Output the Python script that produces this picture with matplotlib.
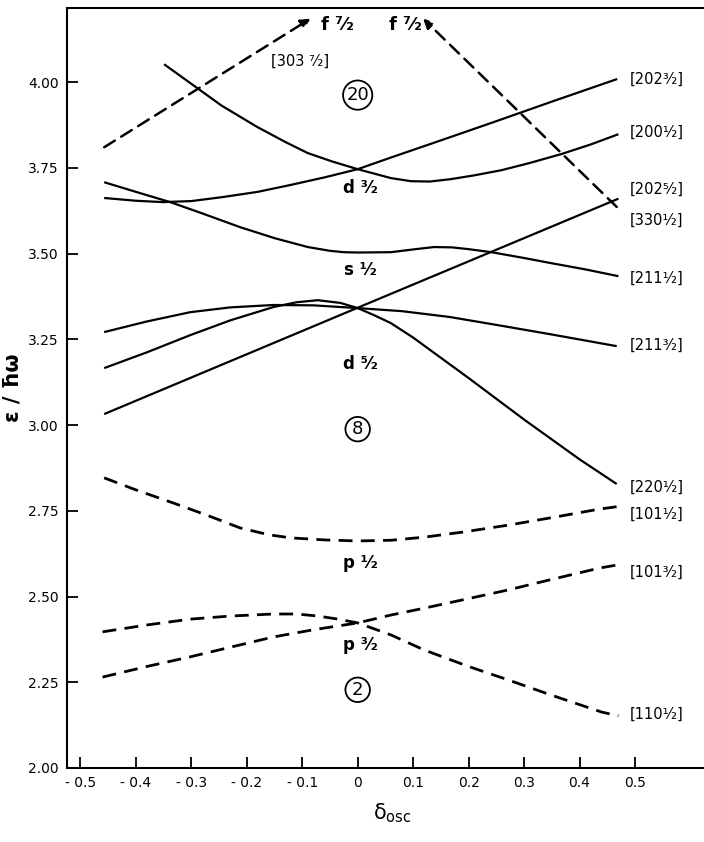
import matplotlib
matplotlib.use("Agg")
import matplotlib.pyplot as plt

# deformation values (delta_osc) and energies (eps / hbar omega)
# solid levels (N=2 shell)
d_202_32 = [-0.457, -0.40, -0.351, -0.30, -0.242, -0.18, -0.121, -0.06, 0.0, 0.06, 0.15, 0.25, 0.35, 0.468]
e_202_32 = [3.662, 3.654, 3.650, 3.653, 3.665, 3.680, 3.700, 3.722, 3.746, 3.780, 3.830, 3.886, 3.943, 4.009]

d_200_12 = [-0.349, -0.30, -0.245, -0.181, -0.13, -0.09, -0.045, 0.0, 0.06, 0.096, 0.13, 0.168,
            0.21, 0.259, 0.31, 0.367, 0.42, 0.470]
e_200_12 = [4.052, 3.995, 3.931, 3.869, 3.825, 3.793, 3.768, 3.746, 3.720, 3.711, 3.710, 3.717,
            3.728, 3.743, 3.764, 3.790, 3.818, 3.848]

d_211_12 = [-0.457, -0.40, -0.338, -0.28, -0.212, -0.15, -0.09, -0.05, -0.025, 0.0, 0.06, 0.10,
            0.138, 0.17, 0.199, 0.241, 0.30, 0.349, 0.41, 0.470]
e_211_12 = [3.708, 3.680, 3.650, 3.617, 3.577, 3.545, 3.519, 3.508, 3.504, 3.503, 3.504, 3.512,
            3.519, 3.518, 3.513, 3.504, 3.487, 3.472, 3.454, 3.434]

d_202_52 = [-0.457, 0.0, 0.470]
e_202_52 = [3.032, 3.342, 3.660]

d_220_12 = [-0.457, -0.38, -0.302, -0.23, -0.152, -0.11, -0.072, -0.031, 0.0, 0.03, 0.06,
            0.10, 0.20, 0.30, 0.40, 0.467]
e_220_12 = [3.166, 3.212, 3.262, 3.305, 3.344, 3.358, 3.364, 3.356, 3.341, 3.320, 3.297,
            3.255, 3.137, 3.016, 2.900, 2.828]

d_211_32 = [-0.457, -0.38, -0.302, -0.23, -0.152, -0.08, 0.0, 0.08, 0.166, 0.25, 0.35, 0.467]
e_211_32 = [3.271, 3.302, 3.329, 3.343, 3.350, 3.349, 3.341, 3.332, 3.315, 3.292, 3.264, 3.230]

# dashed levels (N=1 shell)
d_101_12 = [-0.457, -0.40, -0.333, -0.27, -0.212, -0.16, -0.121, -0.06, 0.0, 0.06, 0.12,
            0.19, 0.271, 0.35, 0.436, 0.468]
e_101_12 = [2.846, 2.811, 2.773, 2.736, 2.700, 2.680, 2.671, 2.665, 2.662, 2.664, 2.673,
            2.688, 2.708, 2.730, 2.755, 2.762]

d_101_32 = [-0.46, -0.38, -0.302, -0.23, -0.152, -0.08, 0.0, 0.06, 0.12, 0.20, 0.271,
            0.35, 0.436, 0.468]
e_101_32 = [2.265, 2.296, 2.324, 2.352, 2.382, 2.403, 2.423, 2.446, 2.466, 2.494, 2.519,
            2.550, 2.583, 2.592]

d_110_12 = [-0.46, -0.38, -0.302, -0.23, -0.152, -0.11, -0.072, -0.035, 0.0, 0.06, 0.12,
            0.20, 0.271, 0.35, 0.44, 0.47]
e_110_12 = [2.397, 2.417, 2.434, 2.443, 2.449, 2.449, 2.443, 2.434, 2.423, 2.388, 2.344,
            2.296, 2.257, 2.212, 2.163, 2.152]

# f7/2 intruder arrows (start, tip)
f_left_d = [-0.457, -0.085]
f_left_e = [3.810, 4.185]
f_right_d = [0.467, 0.118]
f_right_e = [3.636, 4.185]

# Nilsson labels at the right end
right_labels = ["[202³⁄₂]", "[200¹⁄₂]", "[202⁵⁄₂]", "[330¹⁄₂]", "[211¹⁄₂]",
                "[211³⁄₂]", "[220¹⁄₂]", "[101¹⁄₂]", "[101³⁄₂]", "[110¹⁄₂]"]
right_label_e = [4.007, 3.855, 3.686, 3.598, 3.429, 3.233, 2.819, 2.740, 2.571, 2.157]

# spherical labels at delta = 0
sph_labels = ["d ³⁄₂", "s ¹⁄₂", "d ⁵⁄₂", "p ¹⁄₂", "p ³⁄₂"]
sph_e = [3.692, 3.453, 3.178, 2.598, 2.358]

magic = ["20", "8", "2"]
magic_e = [3.962, 2.988, 2.228]

fig = plt.figure(figsize=(7.04, 8.42), dpi=100)
ax = fig.add_axes([0.0952, 0.0879, 0.925, 0.9026])

solid = dict(color="black", lw=1.6, solid_capstyle="butt", solid_joinstyle="round")
dashed = dict(color="black", lw=2.0, dashes=(5, 3))

for d, e in [(d_202_32, e_202_32), (d_200_12, e_200_12), (d_211_12, e_211_12),
             (d_202_52, e_202_52), (d_220_12, e_220_12), (d_211_32, e_211_32)]:
    ax.plot(d, e, **solid)

for d, e in [(d_101_12, e_101_12), (d_101_32, e_101_32), (d_110_12, e_110_12)]:
    ax.plot(d, e, **dashed)

for d, e in [(f_left_d, f_left_e), (f_right_d, f_right_e)]:
    ax.annotate("", xy=(d[1], e[1]), xytext=(d[0], e[0]),
                arrowprops=dict(arrowstyle="-|>", color="black", lw=1.8,
                                linestyle=(0, (5, 3)), mutation_scale=14,
                                shrinkA=0, shrinkB=0))

ax.text(-0.037, 4.166, "f ⁷⁄₂", fontsize=13, fontweight="bold", ha="center", va="center")
ax.text(0.087, 4.166, "f ⁷⁄₂", fontsize=13, fontweight="bold", ha="center", va="center")
ax.text(-0.103, 4.06, "[303 ⁷⁄₂]", fontsize=10.5, ha="center", va="center")

for lab, e in zip(right_labels, right_label_e):
    ax.text(0.49, e, lab, fontsize=10.5, ha="left", va="center")

for lab, e in zip(sph_labels, sph_e):
    ax.text(0.005, e, lab, fontsize=12, fontweight="bold", ha="center", va="center")

for lab, e in zip(magic, magic_e):
    ax.text(0.0, e, lab, fontsize=13, ha="center", va="center",
            bbox=dict(boxstyle="circle,pad=0.18", fc="white", ec="black", lw=1.3))

ax.set_xlim(-0.524, 0.65)
ax.set_ylim(2.0, 4.216)
ax.set_xticks([-0.5, -0.4, -0.3, -0.2, -0.1, 0, 0.1, 0.2, 0.3, 0.4, 0.5])
ax.set_xticklabels(["- 0.5", "- 0.4", "- 0.3", "- 0.2", "- 0.1", "0",
                    "0.1", "0.2", "0.3", "0.4", "0.5"])
ax.set_yticks([2.0, 2.25, 2.5, 2.75, 3.0, 3.25, 3.5, 3.75, 4.0])
ax.set_yticklabels(["2.00", "2.25", "2.50", "2.75", "3.00", "3.25", "3.50", "3.75", "4.00"])
ax.tick_params(direction="in", length=8, width=1.3, labelsize=10, pad=6)
for s in ax.spines.values():
    s.set_linewidth(1.5)

ax.set_xlabel("δ$_{\\rm osc}$", fontsize=15, labelpad=8)
ax.set_ylabel("ε / ħω", fontsize=15, fontweight="bold", labelpad=4)

fig.savefig("out.png", dpi=100)
